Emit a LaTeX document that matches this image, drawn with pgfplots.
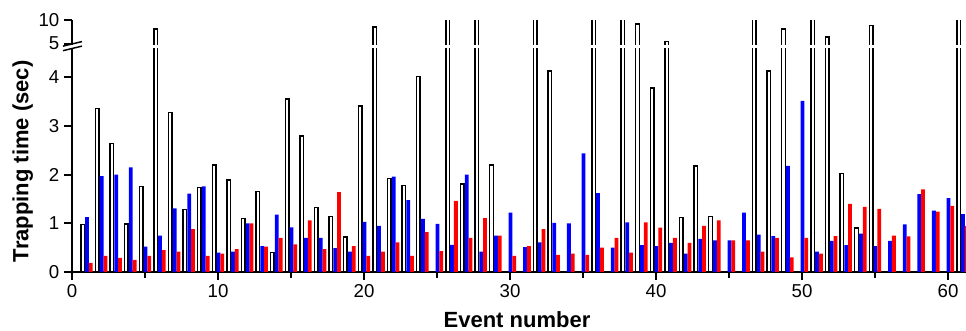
\documentclass[border=0pt]{standalone}
\usepackage{pgfplots}
\pgfplotsset{compat=1.18}
\usepackage{pgfplotstable}
\usepackage{fontspec}
\setmainfont{Liberation Sans}

% black (outlined) bars
\pgfplotstableread{
n b
1 0.98
2 3.36
3 2.64
4 0.99
5 1.76
6 8.1
7 3.28
8 1.29
9 1.74
10 2.20
11 1.89
12 1.10
13 1.66
14 0.40
15 3.56
16 2.80
17 1.33
18 1.14
19 0.72
20 3.41
21 8.6
22 1.92
23 1.78
24 4.02
26 12
27 1.81
28 12
29 2.20
32 12
33 4.13
36 12
38 12
39 9.2
40 3.78
41 5.5
42 1.12
43 2.18
44 1.14
47 12
48 4.13
49 8.1
51 12
52 6.4
53 2.03
54 0.90
55 8.9
61 12
}\blacktab

% blue and red bars
\pgfplotstableread{
n u r
1 1.13 0.19
2 1.97 0.33
3 2.00 0.29
4 2.15 0.25
5 0.52 0.33
6 0.75 0.45
7 1.31 0.42
8 1.61 0.88
9 1.76 0.33
10 0.40 0.38
11 0.42 0.47
12 1.00 1.00
13 0.53 0.52
14 1.18 0.70
15 0.92 0.57
16 0.70 1.06
17 0.70 0.47
18 0.49 1.64
19 0.42 0.53
20 1.03 0.33
21 0.95 0.42
22 1.96 0.61
23 1.48 0.33
24 1.09 0.82
25 0.99 0.43
26 0.56 1.46
27 2.00 0.70
28 0.42 1.11
29 0.75 0.75
30 1.22 0.33
31 0.51 0.53
32 0.61 0.88
33 1.01 0.35
34 1.00 0.38
35 2.44 0.35
36 1.62 0.50
37 0.50 0.70
38 1.02 0.40
39 0.55 1.02
40 0.53 0.91
41 0.60 0.70
42 0.38 0.60
43 0.68 0.95
44 0.65 1.06
45 0.65 0.65
46 1.22 0.65
47 0.77 0.42
48 0.74 0.70
49 2.18 0.30
50 3.52 0.70
51 0.42 0.38
52 0.64 0.74
53 0.55 1.40
54 0.79 1.34
55 0.53 1.30
56 0.64 0.75
57 0.98 0.73
58 1.60 1.70
59 1.26 1.24
60 1.52 1.36
61 1.19 0.95
}\colortab

\pgfplotsset{
  blackbar/.style={ybar, bar width=0.24, bar shift=-0.27, draw=black, fill=white, line width=1.1pt},
  bluebar/.style={ybar, bar width=0.26, bar shift=0.03, draw=none, fill={rgb,255:red,0;green,0;blue,255}},
  redbar/.style={ybar, bar width=0.26, bar shift=0.29, draw=none, fill={rgb,255:red,255;green,0;blue,0}},
}

\begin{document}
\begin{tikzpicture}
\begin{axis}[
  scale only axis,
  at={(0,0)}, anchor=south west,
  width=670.5pt, height=188.8pt,
  xmin=0, xmax=61.23,
  ymin=0, ymax=10,
  % broken y axis: 0-4.6 linear, 5-10 compressed
  y coord trafo/.code={\pgfmathparse{#1<=4.6 ? #1 : (#1<=5 ? 4.6+(#1-4.6)*0.2375 : 4.695+(#1-5)*0.0962)}},
  y coord inv trafo/.code={\pgfmathparse{#1<=4.6 ? #1 : (#1<=4.695 ? 4.6+(#1-4.6)/0.2375 : 5+(#1-4.695)/0.0962)}},
  ytick={0,1,2,3,4,5,10},
  yticklabels={0,1,2,3,4,5,10},
  xtick={0,10,...,60},
  minor xtick={5,15,...,55},
  axis x line*=bottom, axis y line*=left,
  tick align=outside,
  major tick length=6pt,
  minor tick length=4.5pt,
  axis line style={line width=1.5pt, black},
  every tick/.style={line width=1.5pt, black},
  every tick label/.append style={font=\fontsize{14}{16}\selectfont},
  /pgf/number format/assume math mode=true,
]
\addplot[blackbar] table[x=n,y=b]{\blacktab};
\addplot[bluebar] table[x=n,y=u]{\colortab};
\addplot[redbar] table[x=n,y=r]{\colortab};
\end{axis}
% gap of the axis break
\fill[white] (-3pt,167.8pt) rectangle (672pt,170.6pt);
% axis break marks
\draw[line width=1.1pt] (-6.75pt,166.0pt) -- (7.5pt,169.4pt);
\draw[line width=1.1pt] (-6.75pt,169.4pt) -- (7.5pt,172.8pt);
% axis titles
\node[rotate=90, font=\bfseries\fontsize{16.5}{19}\selectfont] at (-37pt,83pt) {Trapping time (sec)};
\node[anchor=base, font=\bfseries\fontsize{16.5}{19}\selectfont] at (333.75pt,-41.5pt) {Event number};
% picture bounds
\pgfresetboundingbox
\path[use as bounding box] (-54pt,-44.25pt) rectangle (670.5pt,204pt);
\end{tikzpicture}
\end{document}
